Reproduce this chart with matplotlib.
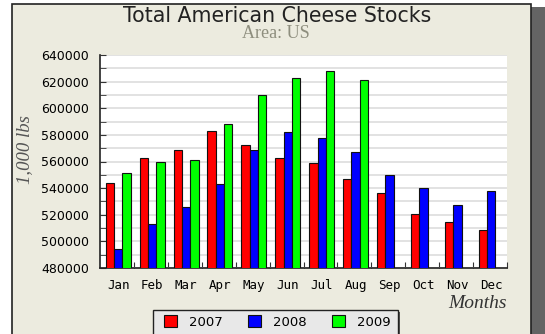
import numpy as np
import matplotlib
matplotlib.use("Agg")
from matplotlib import pyplot as plt
from matplotlib.patches import Rectangle

months = ['Jan', 'Feb', 'Mar', 'Apr', 'May', 'Jun', 'Jul', 'Aug', 'Sep', 'Oct', 'Nov', 'Dec']
stocks_2007 = [544000, 562500, 568500, 583000, 572500, 562500, 559000, 546500, 536500, 520500, 514500, 508500]
stocks_2008 = [494000, 513000, 526000, 543000, 568500, 582000, 578000, 567500, 550000, 540000, 527000, 538000]
stocks_2009 = [551000, 560000, 561500, 588000, 610000, 623000, 628000, 621500]
years = ['2007', '2008', '2009']

W, H = 545, 334
fig = plt.figure(figsize=(W / 100, H / 100), dpi=100, facecolor='white')

# beige panel with dark frame and grey drop shadow on the right
fig.patches.append(Rectangle((531 / W, 0), 14 / W, 1 - 7 / H, transform=fig.transFigure,
                             facecolor='#646464', edgecolor='none', zorder=-2))
fig.patches.append(Rectangle((12 / W, -0.05), 519 / W, 1.05 - 4 / H, transform=fig.transFigure,
                             facecolor='#ECEBDF', edgecolor='#222222', linewidth=1.2, zorder=-1))

# legend box (runs off the bottom edge)
fig.patches.append(Rectangle((155 / W, -0.05), 245 / W, 0.05 + 1 - 312 / H, transform=fig.transFigure,
                             facecolor='#555555', edgecolor='none', zorder=4))
fig.patches.append(Rectangle((153 / W, -0.05), 245 / W, 0.05 + 1 - 310 / H, transform=fig.transFigure,
                             facecolor='#E8E8E8', edgecolor='#222222', linewidth=1.0, zorder=4))

ax = fig.add_axes([100 / W, 1 - 268 / H, 407 / W, 213 / H])
ax.set_zorder(2)
ax.set_facecolor('white')

x = np.arange(len(months))
bw = 0.245
centre = 0.537
kw = dict(width=bw, edgecolor='#111111', linewidth=0.8, zorder=3)
ax.bar(x + centre - bw, stocks_2007, color='#FF0000', label=years[0], **kw)
ax.bar(x + centre, stocks_2008, color='#0000FF', label=years[1], **kw)
ax.bar(np.arange(len(stocks_2009)) + centre + bw, stocks_2009, color='#00FF00', label=years[2], **kw)

ax.set_xlim(0, 12)
ax.set_ylim(480000, 640000)

ax.set_yticks(np.arange(480000, 640001, 20000))
ax.set_yticks(np.arange(480000, 640001, 10000), minor=True)
ax.yaxis.grid(True, which='both', color='#E2E2E2', linewidth=1.4, zorder=0)
ax.set_axisbelow(True)
ax.tick_params(axis='y', which='both', direction='in', length=4, color='#333333',
               labelsize=9, pad=8)

# group boundaries get small tick marks, month names sit in the middle
ax.set_xticks(np.arange(1, 13))
ax.set_xticklabels([])
ax.set_xticks(x + centre, minor=True)
ax.set_xticklabels(months, minor=True, family='DejaVu Sans Mono', fontsize=9)
ax.tick_params(axis='x', which='major', direction='in', length=4, color='#333333')
ax.tick_params(axis='x', which='minor', length=0, pad=8)

for side in ['top', 'right']:
    ax.spines[side].set_visible(False)
ax.spines['left'].set_color('#222222')
ax.spines['bottom'].set_color('#222222')
ax.spines['left'].set_linewidth(1.2)
ax.spines['bottom'].set_linewidth(1.2)

fig.text(277 / W, 1 - 16 / H, 'Total American Cheese Stocks', ha='center', va='center',
         family='DejaVu Sans', fontsize=14.8, color='#222222')
fig.text(276 / W, 1 - 34 / H, 'Area: US', ha='center', va='center',
         family='Liberation Serif', fontsize=13, color='#8E8E7E')
fig.text(25 / W, 1 - 150 / H, '1,000 lbs', rotation=90, ha='center', va='center',
         family='Liberation Serif', style='italic', fontsize=13.5, color='#555555')
fig.text(507 / W, 1 - 303 / H, 'Months', ha='right', va='center',
         family='Liberation Serif', style='italic', fontsize=14, color='#333333')

leg = fig.legend(loc='center left', bbox_to_anchor=(160 / W, 1 - 322 / H), ncol=3,
                 frameon=False, fontsize=9.5,
                 handlelength=1.0, handleheight=1.0, columnspacing=1.9, handletextpad=0.9,
                 borderpad=0.3, borderaxespad=0)
leg.set_zorder(5)

fig.savefig('out.png', dpi=100, facecolor=fig.get_facecolor())
